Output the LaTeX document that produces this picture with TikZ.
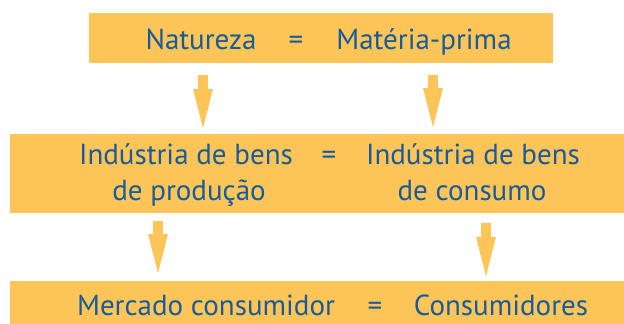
\documentclass[tikz,border=0pt]{standalone}
\usepackage{fontspec}
\setmainfont{PT Sans}
\usetikzlibrary{arrows.meta}
\definecolor{boxyellow}{RGB}{253,197,88}
\definecolor{textblue}{RGB}{22,92,155}
\begin{document}
\begin{tikzpicture}[x=1pt,y=-1pt,
  box/.style={fill=boxyellow, draw=none, inner sep=0pt, outer sep=0pt},
  lbl/.style={text=textblue, font=\fontsize{29}{35}\selectfont, anchor=base, inner sep=0pt},
  flow/.style={draw=boxyellow, line width=10pt,
    -{Triangle[length=39pt,width=20pt,line width=0pt]}}]
\useasboundingbox (0,0) rectangle (624,324);
% boxes
\node[box, minimum width=464pt, minimum height=50pt] (top) at (321,38) {};
\node[box, minimum width=614pt, minimum height=79pt] (mid) at (317,173.5) {};
\node[box, minimum width=614pt, minimum height=43pt] (bot) at (317,302.5) {};
% top texts
\node[lbl] (t1) at (201,49) {Natureza};
\node[lbl] (t2) at (296,49) {=};
\node[lbl] (t3) at (424,49) {Matéria-prima};
% middle texts
\node[lbl] (m1) at (186,164) {Indústria de bens};
\node[lbl] (m2) at (189,200) {de produção};
\node[lbl] (m3) at (329,164) {=};
\node[lbl] (m4) at (473,164) {Indústria de bens};
\node[lbl] (m5) at (472,200) {de consumo};
% bottom texts
\node[lbl] (b1) at (206,315) {Mercado consumidor};
\node[lbl] (b2) at (375,315) {=};
\node[lbl] (b3) at (501,315) {Consumidores};
% arrows
\coordinate (a1s) at (203,75);  \coordinate (a1e) at (203,128);
\coordinate (a2s) at (433,75);  \coordinate (a2e) at (433,127);
\coordinate (a3s) at (158,221); \coordinate (a3e) at (158,273);
\coordinate (a4s) at (486,223); \coordinate (a4e) at (486,276);
\draw[flow] (a1s) -- (a1e);
\draw[flow] (a2s) -- (a2e);
\draw[flow] (a3s) -- (a3e);
\draw[flow] (a4s) -- (a4e);
\end{tikzpicture}
\end{document}
